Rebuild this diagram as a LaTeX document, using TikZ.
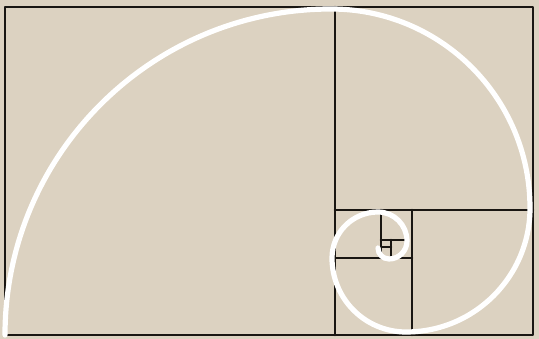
\documentclass[tikz,border=0pt]{standalone}
\definecolor{bg}{RGB}{220,210,193}
\definecolor{ink}{RGB}{25,22,18}
\begin{document}
\begin{tikzpicture}[x=1pt,y=1pt,
  frame/.style={line width=2.6pt, draw=ink, line cap=round, line join=round},
  spiral/.style={draw=white, line width=5.2pt, line cap=round}]
\fill[bg] (0,0) rectangle (539,339);
\useasboundingbox (0,0) rectangle (539,339);
% outer rectangle
\coordinate (bl) at (5,4);
\coordinate (tr) at (533,332);
\draw[frame] (bl) rectangle (tr);
% subdivisions
\coordinate (a1) at (335,4);   \coordinate (a2) at (335,332);
\coordinate (b1) at (335,129); \coordinate (b2) at (533,129);
\coordinate (c1) at (412,4);   \coordinate (c2) at (412,129);
\coordinate (d1) at (335,81);  \coordinate (d2) at (412,81);
\coordinate (e1) at (381,81);  \coordinate (e2) at (381,129);
\coordinate (f1) at (381,99);  \coordinate (f2) at (406,99);
\coordinate (g1) at (391,81);  \coordinate (g2) at (391,99);
\coordinate (h1) at (381,92);  \coordinate (h2) at (391,92);
\draw[frame] (a1) -- (a2);
\draw[frame] (b1) -- (b2);
\draw[frame] (c1) -- (c2);
\draw[frame] (d1) -- (d2);
\draw[frame] (e1) -- (e2);
\draw[frame] (f1) -- (f2);
\draw[frame] (g1) -- (g2);
\draw[frame] (h1) -- (h2);
% golden spiral
\coordinate (s0) at (5,4);
\draw[spiral] (s0) arc[start angle=180,end angle=90,radius=326]
  arc[start angle=90,end angle=0,radius=199]
  arc[start angle=0,end angle=-90,radius=124]
  arc[start angle=-90,end angle=-180,radius=74]
  arc[start angle=180,end angle=90,radius=46]
  arc[start angle=90,end angle=0,radius=29]
  arc[start angle=0,end angle=-90,radius=18]
  arc[start angle=-90,end angle=-180,radius=11];
\end{tikzpicture}
\end{document}
